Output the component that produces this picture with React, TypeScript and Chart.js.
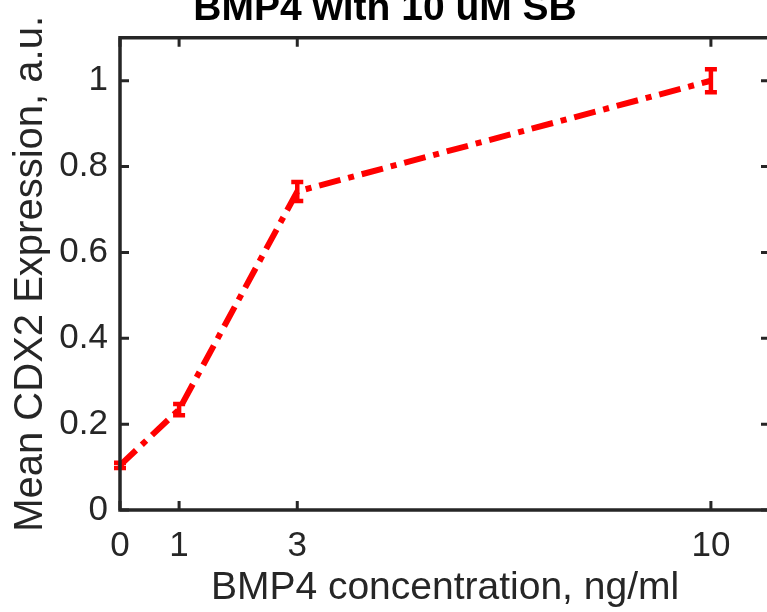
import React, { useEffect, useRef } from 'react';
import { Chart, registerables } from 'chart.js';

Chart.register(...registerables);

// ---- data ----
const concentrations = [0, 1, 3, 10];
const meanExpression = [0.104, 0.234, 0.742, 1.0];
const errorValues = [0.006, 0.013, 0.022, 0.027];
const xTickValues = [0, 1, 3, 10];
const yTickValues = [0, 0.2, 0.4, 0.6, 0.8, 1];
const xRange = [0, 11];
const yRange = [0, 1.1];
const titleText = 'BMP4 with 10 uM SB';
const xTitle = 'BMP4 concentration, ng/ml';
const yTitle = 'Mean CDX2 Expression, a.u.';

const FONT = "'Liberation Sans', Arial, Helvetica, sans-serif";
const AXIS_COLOR = '#262626';
const RED = '#ff0000';

const CANVAS_W = 890;
const CANVAS_H = 632;
const TOP_OFFSET = 20;

const errorBarPlugin = {
  id: 'errorBars',
  afterDatasetsDraw(chart: any) {
    const ctx = chart.ctx;
    const xs = chart.scales.x;
    const ys = chart.scales.y;
    ctx.save();
    ctx.strokeStyle = RED;
    ctx.lineWidth = 4.5;
    ctx.lineCap = 'butt';
    const cap = 6;
    concentrations.forEach((c, i) => {
      const px = xs.getPixelForValue(c);
      const yTop = ys.getPixelForValue(meanExpression[i] + errorValues[i]);
      const yBot = ys.getPixelForValue(meanExpression[i] - errorValues[i]);
      ctx.beginPath();
      ctx.moveTo(px, yTop - 2);
      ctx.lineTo(px, yBot + 2);
      ctx.moveTo(px - cap, yTop);
      ctx.lineTo(px + cap, yTop);
      ctx.moveTo(px - cap, yBot);
      ctx.lineTo(px + cap, yBot);
      ctx.stroke();
    });
    ctx.restore();
  },
};

const boxPlugin = {
  id: 'matlabBox',
  afterDraw(chart: any) {
    const ctx = chart.ctx;
    const { left, right, top, bottom } = chart.chartArea;
    const xs = chart.scales.x;
    const ys = chart.scales.y;
    const tl = 9;
    ctx.save();
    ctx.strokeStyle = AXIS_COLOR;
    ctx.lineWidth = 3.5;
    ctx.lineCap = 'square';
    ctx.beginPath();
    ctx.rect(left, top, right - left, bottom - top);
    ctx.stroke();
    ctx.beginPath();
    ctx.lineWidth = 3;
    xTickValues.forEach((v) => {
      const px = xs.getPixelForValue(v);
      ctx.moveTo(px, bottom);
      ctx.lineTo(px, bottom - tl);
      ctx.moveTo(px, top);
      ctx.lineTo(px, top + tl);
    });
    yTickValues.forEach((v) => {
      const py = ys.getPixelForValue(v);
      ctx.moveTo(left, py);
      ctx.lineTo(left + tl, py);
      ctx.moveTo(right, py);
      ctx.lineTo(right - tl, py);
    });
    ctx.lineCap = 'butt';
    ctx.stroke();
    ctx.restore();
  },
};

export default function App() {
  const canvasRef = useRef<HTMLCanvasElement | null>(null);

  useEffect(() => {
    const canvas = canvasRef.current;
    if (!canvas) return;
    const chart = new Chart(canvas, {
      type: 'line',
      data: {
        datasets: [
          {
            label: 'CDX2',
            data: concentrations.map((c, i) => ({ x: c, y: meanExpression[i] })),
            borderColor: RED,
            backgroundColor: RED,
            borderWidth: 6,
            borderDash: [22, 8, 6, 8],
            borderCapStyle: 'butt',
            pointRadius: 0,
            tension: 0,
            fill: false,
          },
        ],
      },
      options: {
        responsive: false,
        animation: false,
        devicePixelRatio: 1,
        layout: { padding: { left: 0, right: 120, top: 0, bottom: 0 } },
        plugins: {
          legend: { display: false },
          tooltip: { enabled: false },
          title: {
            display: true,
            text: titleText,
            color: '#000000',
            font: { family: FONT, size: 39, weight: 'bold' },
            padding: { top: 6, bottom: 5 },
          },
        },
        scales: {
          x: {
            type: 'linear',
            min: xRange[0],
            max: xRange[1],
            grid: { display: false, drawTicks: false },
            border: { display: false },
            afterBuildTicks: (scale: any) => {
              scale.ticks = xTickValues.map((v) => ({ value: v }));
            },
            afterFit: (scale: any) => {
              scale.height = 102;
            },
            ticks: {
              color: AXIS_COLOR,
              font: { family: FONT, size: 35 },
              padding: 15,
              maxRotation: 0,
              autoSkip: false,
              callback: (v: any) => String(v),
            },
            title: {
              display: true,
              text: xTitle,
              color: AXIS_COLOR,
              font: { family: FONT, size: 39 },
              padding: { top: 0, bottom: 0 },
            },
          },
          y: {
            type: 'linear',
            min: yRange[0],
            max: yRange[1],
            grid: { display: false, drawTicks: false },
            border: { display: false },
            afterBuildTicks: (scale: any) => {
              scale.ticks = yTickValues.map((v) => ({ value: v }));
            },
            afterFit: (scale: any) => {
              scale.width = 120;
            },
            ticks: {
              color: AXIS_COLOR,
              font: { family: FONT, size: 35 },
              padding: 12,
              autoSkip: false,
              callback: (v: any) => String(v),
            },
            title: {
              display: true,
              text: yTitle,
              color: AXIS_COLOR,
              font: { family: FONT, size: 40 },
              padding: { top: 7, bottom: 0 },
            },
          },
        },
      },
      plugins: [errorBarPlugin, boxPlugin],
    } as any);
    return () => chart.destroy();
  }, []);

  return (
    <div
      style={{
        position: 'fixed',
        left: 0,
        top: 0,
        width: 767,
        height: 612,
        overflow: 'hidden',
        background: '#ffffff',
      }}
    >
      <canvas
        ref={canvasRef}
        width={CANVAS_W}
        height={CANVAS_H}
        style={{ position: 'absolute', left: 0, top: -TOP_OFFSET, width: CANVAS_W, height: CANVAS_H }}
      />
    </div>
  );
}
